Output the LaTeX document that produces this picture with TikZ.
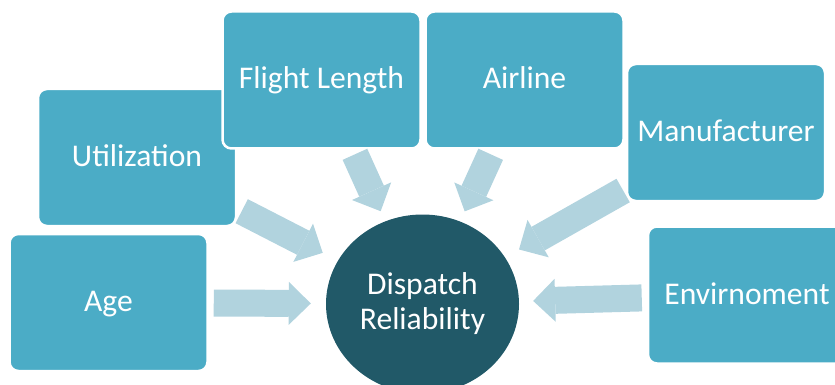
\documentclass[tikz,border=0pt]{standalone}
\usepackage{fontspec}
\setmainfont{Carlito}
\usetikzlibrary{arrows.meta,shapes.geometric}
\definecolor{drTeal}{HTML}{4BACC6}
\definecolor{drPale}{HTML}{B1D3DE}
\definecolor{drDeep}{HTML}{215968}

\begin{document}
\begin{tikzpicture}[
    x=1pt, y=-1pt,
    dr box/.style={rectangle, rounded corners=9pt, draw=white, line width=2.5pt, fill=drTeal,
      minimum width=198pt, minimum height=137pt, text=white, text height=22pt, text depth=4pt,
      font=\fontsize{31.6}{35}\selectfont},
    dr hub/.style={ellipse, fill=drDeep, minimum width=193pt, minimum height=179pt, inner sep=0pt,
      text=white, align=center, font=\fontsize{31.6}{35}\selectfont},
    dr flow/.style={draw=drPale, line width=27pt,
      -{Triangle[width=43pt, length=22pt, line width=0pt]}, shorten <=5pt, shorten >=15pt},
]

  \useasboundingbox (0,0) rectangle (835,385);
  \clip (0,0) rectangle (835,385);

  % Fatores.
  \node[dr box] (util) at (137,157.5) {Utilization};
  \node[dr box] (age) at (108.5,302.5) {Age};
  \node[dr box] (flight) at (321.5,80) {Flight Length};
  \node[dr box] (airline) at (524.5,80) {Airline};
  \node[dr box] (manuf) at (726,132.5) {Manufacturer};
  \node[dr box] (env) at (747,295) {Envirnoment};

  % Centro.
  \node[dr hub] (hub) at (422.5,304) {Dispatch\\Reliability};

  % Setas.
  \draw[dr flow] (age) -- (hub);
  \draw[dr flow, shorten >=17pt] (util) -- (hub);
  \draw[dr flow, shorten >=11pt] (flight) -- (hub);
  \draw[dr flow, shorten >=11pt] (airline) -- (hub);
  \draw[dr flow, shorten <=3pt, shorten >=16pt] (manuf) -- (hub);
  \draw[dr flow, shorten >=14pt] (env) -- (hub);
\end{tikzpicture}
\end{document}
